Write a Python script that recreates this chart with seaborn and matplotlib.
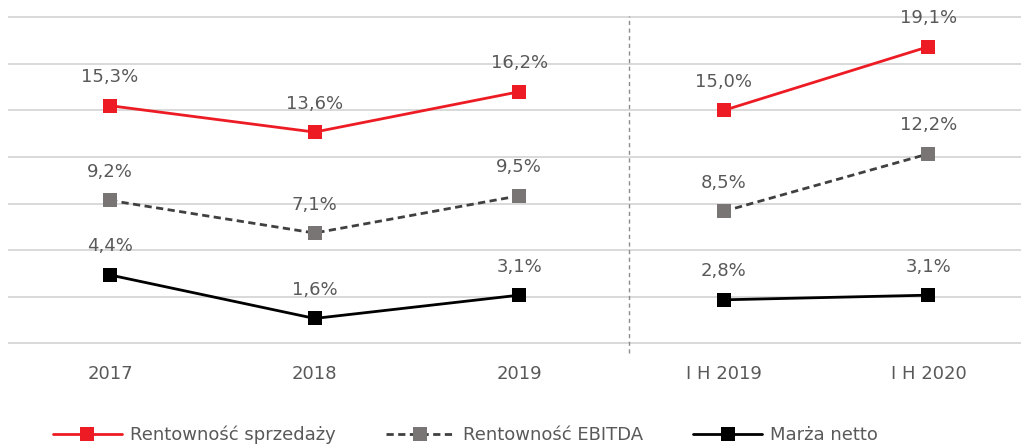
import matplotlib
matplotlib.use("Agg")
import matplotlib.pyplot as plt
from matplotlib.lines import Line2D
import seaborn as sns
import pandas as pd

categories = ["2017", "2018", "2019", "I H 2019", "I H 2020"]
segments = [0, 0, 0, 1, 1]
rent_sprzedazy = [15.3, 13.6, 16.2, 15.0, 19.1]
rent_ebitda = [9.2, 7.1, 9.5, 8.5, 12.2]
marza_netto = [4.4, 1.6, 3.1, 2.8, 3.1]
series_names = ["Rentowność sprzedaży", "Rentowność EBITDA", "Marża netto"]

sns.set_theme(style="white")
plt.rcParams['font.family'] = ['DejaVu Sans']

TXT = "#595959"
FS = 13
styles = {
    "Rentowność sprzedaży": dict(color="#ED1C24", mfc="#ED1C24", dashes=None),
    "Rentowność EBITDA": dict(color="#404040", mfc="#7A7575", dashes=(2.6, 1.6)),
    "Marża netto": dict(color="#000000", mfc="#000000", dashes=None),
}

rows = []
for name, vals in zip(series_names, [rent_sprzedazy, rent_ebitda, marza_netto]):
    for i, (c, s, v) in enumerate(zip(categories, segments, vals)):
        rows.append(dict(series=name, x=i, cat=c, seg=s, value=v))
df = pd.DataFrame(rows)

fig = plt.figure(figsize=(10.21, 4.45), dpi=100)
W, H = 1021, 445
x0 = 7.7
PPU = 15.53
ymin, ymax = -0.3, 22
ax = fig.add_axes([x0 / W, (H - 343.3 - (-ymin) * PPU) / H, (W - x0) / W,
                   (ymax - ymin) * PPU / H])

for name in series_names:
    st = styles[name]
    for seg in [0, 1]:
        d = df[(df.series == name) & (df.seg == seg)]
        sns.lineplot(data=d, x="x", y="value", ax=ax, color=st["color"], lw=2,
                     marker="s", markersize=10.5, markerfacecolor=st["mfc"],
                     markeredgecolor=st["mfc"], markeredgewidth=0,
                     estimator=None, legend=False, zorder=3)
        if st["dashes"] is not None:
            ax.lines[-1].set_dashes(st["dashes"])
    for _, r in df[df.series == name].iterrows():
        ax.annotate(f"{r.value:.1f}%".replace(".", ","), (r.x, r.value),
                    xytext=(0, 20.5), textcoords="offset points", ha="center",
                    va="center", fontsize=FS, color=TXT)

ax.set_xlim(-0.5, -0.5 + (W - x0) / 204.6)
ax.set_ylim(ymin, ymax)
ax.set_yticks([0, 3, 6, 9, 12, 15, 18, 21])
ax.set_yticklabels([])
ax.tick_params(axis="y", length=0)
ax.grid(axis="y", color="#D9D9D9", lw=1.4)
ax.set_axisbelow(True)
ax.set_xticks(range(len(categories)))
ax.set_xticklabels(categories, fontsize=FS, color=TXT)
ax.tick_params(axis="x", length=0, pad=12)
ax.set_xlabel("")
ax.set_ylabel("")
for s in ax.spines.values():
    s.set_visible(False)

sep = 2.538
ax.plot([sep, sep], [-0.65, 21.1], color="#8C8C8C", lw=1, ls=(0, (3, 2.5)), clip_on=False)

handles = []
for name in series_names:
    st = styles[name]
    h = Line2D([], [], color=st["color"], lw=2, marker="s", markersize=10.5,
               markerfacecolor=st["mfc"], markeredgewidth=0)
    if st["dashes"] is not None:
        h.set_dashes(st["dashes"])
    handles.append(h)
leg = fig.legend(handles, series_names, loc="center", ncol=3,
                 bbox_to_anchor=(465.5 / W, 1 - 435 / H), frameon=False,
                 fontsize=FS, handlelength=3.8, handletextpad=0.45,
                 columnspacing=2.8, borderaxespad=0)
for t in leg.get_texts():
    t.set_color(TXT)

fig.savefig("out.png", dpi=100)
